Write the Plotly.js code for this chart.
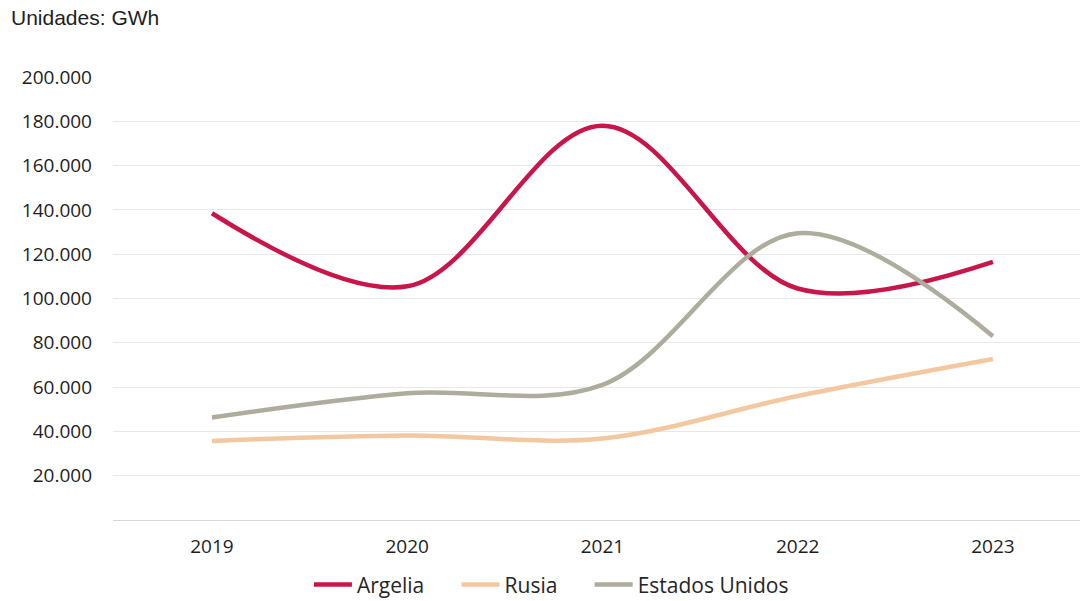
<!DOCTYPE html>
<html>
<head>
<meta charset="utf-8">
<script src="https://cdn.plot.ly/plotly-3.0.1.min.js"></script>
<style>html,body{margin:0;padding:0;background:#fff;}#chart{width:1084px;height:601px;}</style>
</head>
<body>
<div id="chart"></div>
<script>
const years = ["2019", "2020", "2021", "2022", "2023"];
const seriesNames = ["Argelia", "Rusia", "Estados Unidos"];
const argelia = [138500, 105500, 178000, 104500, 116500];
const rusia = [35700, 38200, 36800, 56000, 72700];
const estadosUnidos = [46300, 57200, 61000, 129500, 83000];
const yTicks = [20000, 40000, 60000, 80000, 100000, 120000, 140000, 160000, 180000, 200000];

const pad = "\u00a0".repeat(5);
function series(name, y, color, padded) {
  return {
    type: "scatter", mode: "lines", name: padded ? name + pad : name, x: years, y: y,
    line: {color: color, width: 4.5, shape: "spline", smoothing: 1},
    hoverinfo: "x+y"
  };
}

const data = [
  series(seriesNames[0], argelia, "#C8164A", true),
  series(seriesNames[1], rusia, "#F3C8A0", true),
  series(seriesNames[2], estadosUnidos, "#AEAC9C", false)
];

const tickFont = {family: "'Open Sans', Lato, sans-serif", size: 19, color: "#1e1e1e"};

const layout = {
  width: 1084, height: 601,
  margin: {l: 113, r: 4, t: 77, b: 81, autoexpand: false},
  paper_bgcolor: "#fff", plot_bgcolor: "#fff",
  separators: ",.",
  showlegend: true,
  legend: {orientation: "h", yref: "container", xref: "container", x: 0.285, xanchor: "left",
    y: 0.027, yanchor: "middle", itemwidth: 38,
    font: {family: "'Open Sans', Lato, sans-serif", size: 21, color: "#262626"},
    tracegroupgap: 0},
  xaxis: {type: "category", range: [-0.507, 4.446], showgrid: false, zeroline: false,
    showline: false, ticks: "", ticklabelstandoff: 13, tickfont: tickFont},
  yaxis: {range: [0, 200000], tickvals: yTicks, tickformat: ",", showgrid: true,
    gridcolor: "#E8E8E8", gridwidth: 1, zeroline: true, zerolinecolor: "#D6D6D6", zerolinewidth: 1,
    showline: false, ticks: "", ticklabelstandoff: 20, tickfont: tickFont},
  annotations: [{text: "Unidades: GWh", xref: "paper", yref: "paper", x: -0.108, y: 1.135,
    xanchor: "left", yanchor: "middle", showarrow: false,
    font: {family: "'Liberation Sans', Arial, sans-serif", size: 21, color: "#1e1e1e"}}]
};

Plotly.newPlot("chart", data, layout, {displayModeBar: false, staticPlot: true});
</script>
</body>
</html>
